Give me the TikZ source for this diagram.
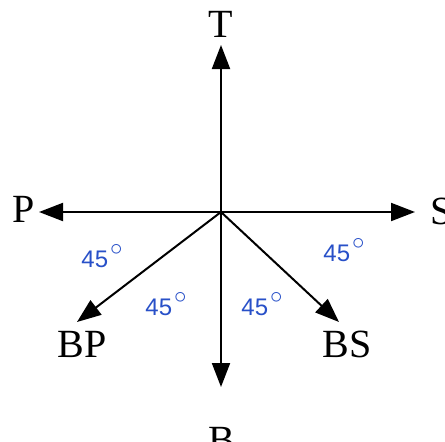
\documentclass[tikz,border=0pt]{standalone}
\usepackage{fontspec}
\setmainfont{Liberation Serif}
\newfontfamily\anglefont{Liberation Sans}
\usetikzlibrary{arrows.meta}
\definecolor{angblue}{RGB}{40,80,200}
\newcommand{\degsym}{\kern2pt\raisebox{0.5em}{$\circ$}}
\begin{document}
\begin{tikzpicture}[x=1pt,y=-1pt,
  axis/.style={line width=2pt,-{Triangle[length=24pt,width=18pt]}},
  dirlabel/.style={font=\fontsize{40}{40}\selectfont,inner sep=0pt,anchor=center},
  anglab/.style={font=\anglefont\fontsize{24}{24}\selectfont,text=angblue,inner sep=0pt,anchor=center}]
\useasboundingbox (0,0) rectangle (445,442);
\coordinate (O) at (221,212);
\coordinate (tT) at (221,45);
\coordinate (tP) at (39,212);
\coordinate (tS) at (415,212);
\coordinate (tB) at (221,387);
\coordinate (tBP) at (77,322);
\coordinate (tBS) at (339,322);
\draw[axis] (O) -- (tT);
\draw[axis] (O) -- (tP);
\draw[axis] (O) -- (tS);
\draw[axis] (O) -- (tB);
\draw[axis] (O) -- (tBP);
\draw[axis] (O) -- (tBS);
\node[dirlabel] (T) at (221,24) {T};
\node[dirlabel] (P) at (24,209) {P};
\node[dirlabel] (S) at (442,211) {S};
\node[dirlabel] (B) at (222,440) {B};
\node[dirlabel] (BP) at (82,344) {BP};
\node[dirlabel] (BS) at (347,344) {BS};
\node[anglab] (a1) at (102,256) {45\degsym};
\node[anglab] (a2) at (166,304) {45\degsym};
\node[anglab] (a3) at (262,304) {45\degsym};
\node[anglab] (a4) at (344,250) {45\degsym};
\end{tikzpicture}
\end{document}
